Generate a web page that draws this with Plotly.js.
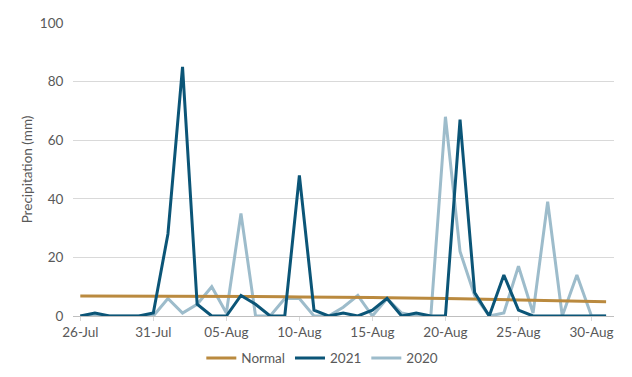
<!DOCTYPE html>
<html><head><meta charset="utf-8">
<script src="https://cdn.plot.ly/plotly-3.0.1.min.js"></script>
<style>html,body{margin:0;padding:0;background:#fff}#c{width:632px;height:377px}</style>
</head><body><div id="c"></div>
<script>
const dates = ["2021-07-26","2021-07-27","2021-07-28","2021-07-29","2021-07-30","2021-07-31",
"2021-08-01","2021-08-02","2021-08-03","2021-08-04","2021-08-05","2021-08-06","2021-08-07","2021-08-08",
"2021-08-09","2021-08-10","2021-08-11","2021-08-12","2021-08-13","2021-08-14","2021-08-15","2021-08-16",
"2021-08-17","2021-08-18","2021-08-19","2021-08-20","2021-08-21","2021-08-22","2021-08-23","2021-08-24",
"2021-08-25","2021-08-26","2021-08-27","2021-08-28","2021-08-29","2021-08-30","2021-08-31"];
const normal = [6.8,6.8,6.8,6.8,6.8,6.8,6.8,6.8,6.7,6.7,6.7,6.7,6.6,6.6,6.6,6.5,6.5,6.4,6.4,6.3,6.3,6.2,6.2,6.1,6.0,6.0,5.9,5.8,5.8,5.7,5.6,5.5,5.4,5.3,5.2,5.0,4.9];
const y2021 = [0,1,0,0,0,1,28,85,4,0,0,7,4,0,0,48,2,0,1,0,2,6,0,1,0,0,67,8,0,14,2,0,0,0,0,0,0];
const y2020 = [0,0,0,0,0,0,6,1,4,10,1,35,0,0,6,6,0,0,3,7,0,6,1,0,0,68,22,7,0,1,17,1,39,0,14,0,0];
const yTicks = [0,20,40,60,80,100];

const font = {family:"Lato, 'Open Sans', sans-serif", color:"#595959", size:13.5};
const traces = [
  {x:dates, y:y2020, name:"2020", type:"scatter", mode:"lines", line:{color:"#9DBCCB", width:3}, legendrank:3},
  {x:dates, y:normal, name:"Normal", type:"scatter", mode:"lines", line:{color:"#BA8A3F", width:3}, legendrank:1},
  {x:dates, y:y2021, name:"2021", type:"scatter", mode:"lines", line:{color:"#0B5577", width:3}, legendrank:2}
];
const layout = {
  width:632, height:377,
  margin:{l:73, r:18, t:23, b:61, autoexpand:false},
  paper_bgcolor:"#fff", plot_bgcolor:"#fff",
  font:font,
  showlegend:true,
  legend:{orientation:"h", x:0.51, xanchor:"center", xref:"container", yref:"container", y:0.05, yanchor:"middle", font:font, traceorder:"normal", itemwidth:30},
  xaxis:{type:"date", range:["2021-07-25 12:00","2021-08-31 13:00"], tick0:"2021-07-26", dtick:5*86400000,
    tickformat:"%d-%b", showgrid:false, showline:true, linecolor:"#BFBFBF", linewidth:1, ticks:"outside", ticklen:4, tickcolor:"#D9D9D9", zeroline:false, fixedrange:true},
  yaxis:{range:[0,100], tickvals:yTicks, showgrid:true, gridcolor:"#D9D9D9", zeroline:false, showline:false, ticks:"outside", ticklen:6, tickcolor:"rgba(0,0,0,0)",
    title:{text:"Precipitation (mm)", font:font, standoff:4}}
};
Plotly.newPlot("c", traces, layout, {displayModeBar:false, staticPlot:true});
</script></body></html>
